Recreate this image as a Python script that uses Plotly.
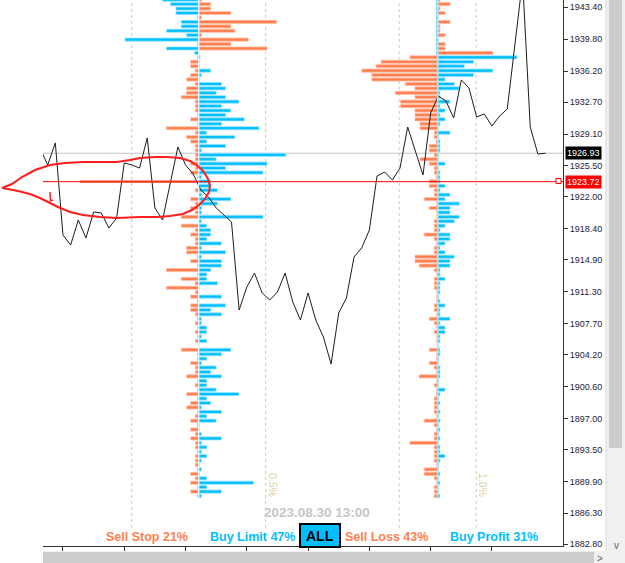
import plotly.graph_objects as go

# ---------------- data ----------------
LEVELS = [1944.25, 1943.75, 1943.25, 1942.75, 1942.25, 1941.75, 1941.25, 1940.75, 1940.25, 1939.75,
          1939.25, 1938.75, 1938.25, 1937.75, 1937.25, 1936.75, 1936.25, 1935.75, 1935.25, 1934.75,
          1934.25, 1933.75, 1933.25, 1932.75, 1932.25, 1931.75, 1931.25, 1930.75, 1930.25, 1929.75,
          1929.25, 1928.75, 1928.25, 1927.75, 1927.25, 1926.75, 1926.25, 1925.75, 1925.25, 1924.75,
          1924.25, 1923.75, 1923.25, 1922.75, 1922.25, 1921.75, 1921.25, 1920.75, 1920.25, 1919.75,
          1919.25, 1918.75, 1918.25, 1917.75, 1917.25, 1916.75, 1916.25, 1915.75, 1915.25, 1914.75,
          1914.25, 1913.75, 1913.25, 1912.75, 1912.25, 1911.75, 1911.25, 1910.75, 1910.25, 1909.75,
          1909.25, 1908.75, 1908.25, 1907.75, 1907.25, 1906.75, 1906.25, 1905.75, 1905.25, 1904.75,
          1904.25, 1903.75, 1903.25, 1902.75, 1902.25, 1901.75, 1901.25, 1900.75, 1900.25, 1899.75,
          1899.25, 1898.75, 1898.25, 1897.75, 1897.25, 1896.75, 1896.25, 1895.75, 1895.25, 1894.75,
          1894.25, 1893.75, 1893.25, 1892.75, 1892.25, 1891.75, 1891.25, 1890.75, 1890.25, 1889.75,
          1889.25, 1888.75, 1888.25]

# left order-book histogram (percent, negative = left of centre)
L_BLUE = [-0.27, -0.21, -0.17, -0.17, -0.01, -0.13, -0.13, -0.24, -0.09, -0.55,
          -0.01, -0.24, -0.03, 0.01, 0.005, 0.005, 0.09, 0.02, 0.005, 0.17,
          0.20, 0.13, 0.20, 0.30, 0.17, 0.24, 0.20, 0.34, 0.17, 0.45,
          0.06, 0.27, 0.06, 0.20, 0.02, 0.65, 0.13, 0.51, 0.20, 0.48,
          0.02, 0.09, 0.09, 0.14, 0.02, 0.24, 0.14, 0.02, 0.02, 0.48,
          0.02, 0.06, 0.09, 0.09, 0.06, 0.17, 0.02, 0.20, 0.02, 0.17,
          0.17, 0.09, 0.06, 0.06, 0.14, 0.005, 0.0, 0.17, 0.0, 0.20,
          0.09, 0.17, 0.02, 0.02, 0.06, 0.06, 0.02, 0.06, 0.0, 0.24,
          0.17, 0.06, 0.02, 0.13, 0.09, 0.17, 0.06, 0.06, 0.13, 0.30,
          0.06, 0.09, 0.02, 0.17, 0.06, 0.13, 0.005, 0.005, 0.02, 0.17,
          0.02, 0.06, 0.02, 0.06, 0.02, 0.005, 0.02, 0.005, 0.06, 0.41,
          0.06, 0.17, 0.02]
L_ORANGE = [0.02, 0.09, 0.09, 0.24, 0.02, 0.58, 0.24, 0.27, 0.02, 0.37,
            0.24, 0.51, 0.0, -0.01, -0.06, -0.06, -0.025, -0.06, -0.09, -0.025,
            -0.09, -0.09, -0.13, -0.025, -0.025, -0.025, -0.01, -0.06, -0.01, -0.24,
            -0.025, -0.09, -0.06, -0.025, -0.025, -0.025, -0.025, -0.06, -0.025, -0.06,
            -0.01, -0.01, 0.0, -0.025, 0.0, -0.06, -0.025, -0.06, -0.025, -0.13,
            0.0, -0.13, -0.025, -0.06, -0.025, -0.025, -0.09, -0.09, -0.01, -0.06,
            -0.01, -0.24, -0.01, -0.13, -0.025, -0.24, -0.025, -0.06, -0.01, -0.06,
            -0.06, -0.025, -0.01, -0.025, -0.01, -0.025, -0.01, -0.025, 0.0, -0.13,
            -0.01, -0.01, -0.06, -0.025, -0.025, -0.09, -0.01, -0.025, -0.01, -0.09,
            -0.01, -0.06, -0.09, -0.01, -0.025, -0.06, -0.01, -0.06, -0.025, -0.06,
            -0.025, -0.025, -0.01, -0.025, -0.025, -0.025, -0.01, -0.06, -0.025, -0.06,
            -0.01, -0.06, -0.01]

# right position histogram (percent, negative = left of centre)
R_BLUE = [-0.04, -0.04, -0.04, -0.04, -0.04, -0.04, -0.04, -0.04, -0.04, -0.04,
          -0.04, -0.04, -0.04, 2.06, 0.93, 0.69, 1.43, 0.93, 0.19, 0.43,
          0.56, 0.06, 0.06, 0.32, 0.06, 0.19, 0.06, 0.19, 0.06, 0.02,
          0.32, 0.02, 0.06, 0.06, 0.06, 0.02, 0.02, 0.19, 0.02, 0.06,
          0.06, 0.06, 0.19, 0.06, 0.32, 0.19, 0.56, 0.32, 0.32, 0.56,
          0.43, 0.19, 0.06, 0.32, 0.32, 0.19, 0.06, 0.19, 0.43, 0.32,
          0.32, 0.06, 0.06, 0.19, 0.06, 0.06, 0.06, 0.02, 0.06, 0.19,
          0.06, 0.06, 0.32, 0.06, 0.19, 0.19, 0.06, 0.06, 0.0, 0.06,
          0.06, 0.02, 0.02, 0.06, 0.06, 0.06, 0.02, 0.02, 0.19, 0.06,
          0.02, 0.06, 0.02, 0.06, 0.02, 0.06, 0.02, 0.06, 0.02, 0.06,
          0.02, 0.06, 0.06, 0.19, 0.06, 0.02, 0.02, 0.06, 0.02, 0.06,
          0.02, 0.02, 0.06]
R_ORANGE = [0.06, 0.32, 0.06, 0.19, 0.02, 0.32, 0.06, 0.06, 0.19, 0.02,
            0.19, 0.19, 1.43, -0.72, -1.47, -1.60, -1.97, -1.71, -1.71, -0.84,
            -0.59, -1.10, -0.59, -0.97, -0.97, -0.59, -0.59, -0.59, -0.46, -0.46,
            -0.09, -0.09, -0.04, -0.22, -0.22, -0.09, -0.46, -0.22, -0.09, -0.09,
            -0.04, -0.22, -0.22, -0.09, -0.09, -0.35, -0.03, -0.22, -0.03, -0.03,
            -0.09, -0.09, -0.09, -0.35, -0.09, -0.03, -0.09, -0.09, -0.59, -0.59,
            -0.48, -0.09, -0.03, -0.09, -0.09, -0.09, -0.03, -0.03, -0.03, -0.09,
            -0.09, -0.03, -0.22, -0.09, -0.03, -0.09, -0.03, -0.03, 0.0, -0.22,
            -0.03, -0.03, -0.22, -0.09, -0.03, -0.48, -0.03, -0.09, -0.03, -0.03,
            -0.09, -0.09, -0.09, -0.09, -0.03, -0.35, -0.09, -0.03, -0.09, -0.09,
            -0.72, -0.09, -0.09, -0.09, -0.09, -0.03, -0.35, -0.35, -0.09, -0.03,
            -0.09, -0.09, -0.09]

# close prices (line chart), one per bar
PRICE = [1927.52, 1925.60, 1928.09, 1917.70, 1916.57, 1919.40, 1917.36, 1920.30, 1920.19, 1918.49,
         1919.62, 1925.83, 1925.60, 1925.26, 1928.65, 1920.75, 1919.40, 1923.46, 1927.63, 1925.60,
         1924.59, 1922.78, 1921.99, 1920.75, 1919.96, 1919.17, 1909.24, 1911.83, 1913.41, 1911.16,
         1910.37, 1911.27, 1913.41, 1910.14, 1908.11, 1911.16, 1908.11, 1906.19, 1903.14, 1908.90,
         1910.59, 1915.22, 1916.24, 1918.27, 1924.36, 1924.81, 1923.91, 1925.26, 1929.89, 1927.18,
         1924.47, 1931.47, 1933.39, 1932.83, 1930.91, 1935.20, 1934.29, 1931.02, 1931.36, 1930.00,
         1931.13, 1931.92, 1939.71, 1946.48, 1929.89, 1926.84, 1926.93]

Y_TICKS = [1943.40, 1939.80, 1936.20, 1932.70, 1929.10, 1925.50, 1922.00, 1918.40, 1914.90,
           1911.30, 1907.70, 1904.20, 1900.60, 1897.00, 1893.50, 1889.90, 1886.30, 1882.80]
X_TICKS = [3, 11, 19, 27, 35, 43, 51, 59]

CUR_PRICE = 1926.93
LINE_PRICE = 1923.72
DATE_LABEL = "2023.08.30 13:00"
LEFT_SCALE_LABEL = "0.5%"
RIGHT_SCALE_LABEL = "1.0%"
BOTTOM_LABELS = ["Sell Stop 21%", "Buy Limit 47%", "Sell Loss 43%", "Buy Profit 31%"]
ALL_LABEL = "ALL"

# ---------------- styling ----------------
BLUE = "#00BFFF"
BLUE_EDGE = "#9EE6FF"
CORAL = "#FF7F50"
CORAL_EDGE = "#FFC2AA"
FONT = "Liberation Sans, Arial, sans-serif"

W, H = 625, 563
L, R, T, B = 43, 62, 0, 17
PW, PH = W - L - R, H - T - B


def px(x):
    return (x - L) / PW


def py(y):
    return (PH + T - y) / PH


fig = go.Figure()

bar_w = 0.36
fig.add_trace(go.Bar(orientation="h", y=LEVELS, x=L_ORANGE, base=0, width=bar_w,
                     marker=dict(color=CORAL, line=dict(color=CORAL_EDGE, width=0.8)),
                     xaxis="x", yaxis="y", hoverinfo="skip"))
fig.add_trace(go.Bar(orientation="h", y=LEVELS, x=L_BLUE, base=0, width=bar_w,
                     marker=dict(color=BLUE, line=dict(color=BLUE_EDGE, width=0.8)),
                     xaxis="x", yaxis="y", hoverinfo="skip"))
fig.add_trace(go.Bar(orientation="h", y=LEVELS, x=R_ORANGE, base=0, width=bar_w,
                     marker=dict(color=CORAL, line=dict(color=CORAL_EDGE, width=0.8)),
                     xaxis="x2", yaxis="y", hoverinfo="skip"))
fig.add_trace(go.Bar(orientation="h", y=LEVELS, x=R_BLUE, base=0, width=bar_w,
                     marker=dict(color=BLUE, line=dict(color=BLUE_EDGE, width=0.8)),
                     xaxis="x2", yaxis="y", hoverinfo="skip"))
fig.add_trace(go.Scatter(x=list(range(len(PRICE))), y=PRICE, mode="lines",
                         line=dict(color="#1e1e1e", width=1), xaxis="x3", yaxis="y",
                         hoverinfo="skip"))

shapes = []
# histogram scale lines (dashed)
for xv, ref in [(-0.5, "x"), (0.5, "x"), (-1.0, "x2"), (1.0, "x2")]:
    shapes.append(dict(type="line", xref=ref, yref="paper", x0=xv, x1=xv, y0=0, y1=1,
                       line=dict(color="#C8C8C8", width=1, dash="3px,3px"), layer="below"))
# current price grey line
shapes.append(dict(type="line", xref="paper", yref="y", x0=0, x1=1, y0=CUR_PRICE, y1=CUR_PRICE,
                   line=dict(color="#C4C4C4", width=1), layer="below"))
# histogram centre lines
shapes.append(dict(type="line", xref="x", yref="y", x0=0, x1=0, y0=LEVELS[-1] - 0.3, y1=LEVELS[0] + 0.3,
                   line=dict(color="#EAF8FF", width=1.2), layer="above"))
shapes.append(dict(type="line", xref="x2", yref="y", x0=0, x1=0, y0=LEVELS[-1] - 0.3, y1=LEVELS[0] + 0.3,
                   line=dict(color="#A8E4FF", width=1.5), layer="above"))
# red horizontal line + marker square
shapes.append(dict(type="line", xref="paper", yref="y", x0=0, x1=1, y0=LINE_PRICE, y1=LINE_PRICE,
                   line=dict(color="#FF0000", width=1), layer="above"))
shapes.append(dict(type="rect", xref="paper", yref="paper", x0=px(556), x1=px(561), y0=py(183.5), y1=py(178.5),
                   line=dict(color="#FF0000", width=1), fillcolor="white", layer="above"))

# hand-drawn red loop
loop = [(2, 188), (12, 184), (22, 177), (35, 170), (50, 165), (65, 163), (83, 162), (100, 162),
        (117, 162), (130, 160), (140, 158), (155, 157), (167, 157), (180, 158), (190, 161),
        (198, 166), (204, 172), (208, 179), (210, 186), (209, 192), (205, 199), (199, 205),
        (192, 210), (183, 214), (170, 216), (157, 217), (140, 217), (117, 218), (100, 217),
        (83, 215), (70, 212), (58, 207), (50, 203), (40, 198), (30, 194), (18, 191), (8, 189), (2, 188)]
path = "M " + " L ".join(f"{px(a):.5f},{py(b):.5f}" for a, b in loop)
shapes.append(dict(type="path", xref="paper", yref="paper", path=path,
                   line=dict(color="#FF1E1E", width=2), layer="above"))
hook = [(50, 192), (50.5, 201), (53, 200)]
shapes.append(dict(type="path", xref="paper", yref="paper",
                   path="M " + " L ".join(f"{px(a):.5f},{py(b):.5f}" for a, b in hook),
                   line=dict(color="#FF1E1E", width=1.5), layer="above"))
shapes.append(dict(type="line", xref="paper", yref="y", x0=px(80), x1=px(197), y0=LINE_PRICE, y1=LINE_PRICE,
                   line=dict(color="#EE3A1E", width=2.2), layer="above"))

# ALL button
shapes.append(dict(type="rect", xref="paper", yref="paper", x0=px(300), x1=px(340), y0=py(547), y1=py(524),
                   fillcolor=BLUE, line=dict(color="black", width=2), layer="above"))

# scrollbars
shapes.append(dict(type="rect", xref="paper", yref="paper", x0=px(606), x1=px(626), y0=py(551), y1=py(-1),
                   fillcolor="#F0F0F0", line=dict(width=0), layer="above"))
shapes.append(dict(type="line", xref="paper", yref="paper", x0=px(606), x1=px(606), y0=py(551), y1=py(-1),
                   line=dict(color="#DADADA", width=1), layer="above"))
shapes.append(dict(type="rect", xref="paper", yref="paper", x0=px(609), x1=px(622), y0=py(448), y1=py(-1),
                   fillcolor="#CDCDCD", line=dict(width=0), layer="above"))
shapes.append(dict(type="rect", xref="paper", yref="paper", x0=px(43), x1=px(626), y0=py(564), y1=py(551),
                   fillcolor="#F0F0F0", line=dict(width=0), layer="above"))
shapes.append(dict(type="rect", xref="paper", yref="paper", x0=px(43), x1=px(594), y0=py(563), y1=py(552),
                   fillcolor="#CDCDCD", line=dict(width=0), layer="above"))


def ann(x, y, text, xref="paper", yref="paper", **kw):
    d = dict(xref=xref, yref=yref, x=x, y=y, text=text, showarrow=False,
             xanchor="center", yanchor="middle")
    d.update(kw)
    return d


annotations = []
annotations.append(ann(px(565), CUR_PRICE, f"{CUR_PRICE:.2f}", yref="y", xanchor="left",
                       bgcolor="black", borderpad=1, font=dict(color="white", size=9, family=FONT)))
annotations.append(ann(px(565), LINE_PRICE, f"{LINE_PRICE:.2f}", yref="y", xanchor="left",
                       bgcolor="#FF0000", borderpad=1, font=dict(color="white", size=9, family=FONT)))
annotations.append(ann(px(317), py(512), f"<b>{DATE_LABEL}</b>",
                       font=dict(color="#C6C6C6", size=13.5, family=FONT)))
annotations.append(ann(px(273), py(485), LEFT_SCALE_LABEL, textangle=90,
                       font=dict(color="#D8CFA0", size=10.5, family=FONT)))
annotations.append(ann(px(483), py(485), RIGHT_SCALE_LABEL, textangle=90,
                       font=dict(color="#D8CFA0", size=10.5, family=FONT)))
label_pos = [146.5, 252.5, 386.5, 494]
label_col = [CORAL, BLUE, CORAL, BLUE]
for t, xpix, c in zip(BOTTOM_LABELS, label_pos, label_col):
    annotations.append(ann(px(xpix), py(537), f"<b>{t}</b>", bgcolor="white", borderpad=1,
                           font=dict(color=c, size=12.5, family=FONT)))
annotations.append(ann(px(320), py(535.5), f"<b>{ALL_LABEL}</b>",
                       font=dict(color="black", size=14, family=FONT)))
annotations.append(ann(px(616), py(545), "v", font=dict(color="#606060", size=10, family=FONT)))
annotations.append(ann(px(600), py(558), ">", font=dict(color="#606060", size=10, family=FONT)))

L_RANGE = [-(198.7 - L) / 134.0, (L + PW - 198.7) / 134.0]
R_RANGE = [-(437.7 - L) / 38.5, (L + PW - 437.7) / 38.5]
X_RANGE = [(L - 40) / 7.66, (L + PW - 40) / 7.66]
Y_RANGE = [1882.61, 1944.22]

fig.update_layout(
    width=W, height=H, margin=dict(l=L, r=R, t=T, b=B, pad=0),
    paper_bgcolor="white", plot_bgcolor="white",
    showlegend=False, barmode="overlay",
    font=dict(family=FONT),
    xaxis=dict(range=L_RANGE, visible=False, fixedrange=True),
    xaxis2=dict(range=R_RANGE, overlaying="x", visible=False, fixedrange=True),
    xaxis3=dict(range=X_RANGE, overlaying="x", side="bottom", anchor="y", showgrid=False, zeroline=False,
                showline=True, linecolor="#333333", linewidth=1, ticks="outside", ticklen=4,
                tickcolor="#333333", tickvals=X_TICKS, showticklabels=False),
    yaxis=dict(range=Y_RANGE, side="right", showgrid=False, zeroline=False, showline=True,
               linecolor="#333333", linewidth=1, ticks="outside", ticklen=4, tickcolor="#333333",
               tickvals=Y_TICKS, ticktext=[f"{v:.2f}" for v in Y_TICKS],
               tickfont=dict(size=9, color="#1b1b3a", family=FONT)),
    shapes=shapes, annotations=annotations,
)

fig.write_html("out.html")
